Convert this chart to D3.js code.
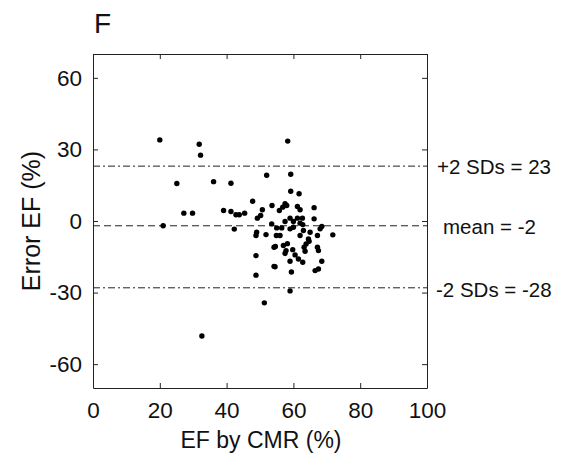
<!DOCTYPE html>
<html>
<head>
<meta charset="utf-8">
<style>
  body { margin: 0; background: #fff; }
  text { font-family: "Liberation Sans", Arial, sans-serif; fill: #111; }
</style>
</head>
<body>
<div id="chart"></div>
<script src="https://cdn.jsdelivr.net/npm/d3@7"></script>
<script>
// EF by CMR (%)
var efCmr = [20, 21, 31.8, 32.2, 25.1, 36.1, 41.3, 27.2, 29.8, 39.1, 41.3, 42.8, 43.8, 45.4, 42.3,
  32.6, 51.3, 59, 58.3, 52, 59.2, 59.2, 61.7, 47.8, 50.7, 50.2, 49.2, 53.6, 55.8, 56.8, 57.5, 58,
  61.2, 62, 66.2, 66.2, 53.5, 55, 57.5, 59, 60, 61.2, 62.7, 62, 60, 59, 62.8, 63, 65, 68, 68.5,
  67.2, 71.8, 64.5, 62, 56, 51.8, 49, 48.8, 54.2, 54.6, 57, 57.8, 59.8, 63.2, 63.5, 67.2, 67.5,
  48.8, 54.5, 59, 61.5, 62.8, 68.5, 67.5, 66.5, 48.8, 54.2, 59.4, 57.5, 60.5, 63.8, 58.2, 64.7,
  54.9, 56.5];
// Error EF (%)
var efError = [34, -2, 32.2, 27.6, 15.7, 16.5, 15.8, 3.3, 3.3, 4.4, 4.0, 2.6, 2.6, 3.3, -3.4,
  -48.2, -34.3, -29.3, 33.5, 19.2, 19.6, 12.5, 11.4, 8.3, 4.7, 2.3, 1.2, 6.5, 4.4, 5.8, 7.2, 6.5,
  6.1, 4.7, 5.6, 0.9, -1.2, -2.9, -0.2, 1.2, -0.2, 1.2, 1.2, -0.9, -2.6, -3.3, -1.5, -4, -4.7, -3.3, -2.3,
  -6.1, -5.8, -7.5, -6.1, -6.1, -5.7, -4.7, -6.1, -11, -10.7, -10.3, -12.4, -12, -11, -12.7, -11, -12.4,
  -14.5, -19.2, -16.9, -15.9, -17.3, -16.9, -20.1, -20.8, -22.7, -19, -21.4, -13.6, -14.2, -9.6, -9.5, -8.5,
  -6.1, -2.9];

var xTicks = [0, 20, 40, 60, 80, 100];
var yTicks = [-60, -30, 0, 30, 60];
var refLines = [
  { value: 23, label: "+2 SDs = 23", dash: "7,3,2,3", dx: 10, dy: 8 },
  { value: -2, label: "mean = -2", dash: "7,4", dx: 16, dy: 8 },
  { value: -28, label: "-2 SDs = -28", dash: "7,3,2,3", dx: 9, dy: 9 }
];

var W = 572, H = 460;
var pL = 93, pR = 427, pT = 54, pB = 388;

var svg = d3.select('#chart').append('svg').attr('width', W).attr('height', H);

var x = d3.scaleLinear().domain([0, 100]).range([pL, pR]);
var y = d3.scaleLinear().domain([-70, 70]).range([pB, pT]);

// reference lines
refLines.forEach(function (r) {
  svg.append('line')
    .attr('x1', pL).attr('x2', pR)
    .attr('y1', y(r.value)).attr('y2', y(r.value))
    .attr('stroke', '#222').attr('stroke-width', 1)
    .attr('stroke-dasharray', r.dash);
  svg.append('text')
    .attr('x', pR + r.dx).attr('y', y(r.value) + r.dy)
    .attr('font-size', 20.5)
    .text(r.label);
});

// axes, MATLAB style box with inward ticks
var fmt = function (d) { return String(d); };
function styleAxis(g) {
  g.selectAll('path').attr('stroke', '#222');
  g.selectAll('line').attr('stroke', '#222');
  g.selectAll('text').attr('font-size', 22.5).attr('fill', '#111')
    .attr('font-family', '"Liberation Sans", Arial, sans-serif');
}

svg.append('g').attr('transform', 'translate(0,' + pB + ')')
  .call(d3.axisBottom(x).tickValues(xTicks).tickFormat(fmt).tickSizeInner(-5).tickSizeOuter(0).tickPadding(14))
  .call(styleAxis);
svg.append('g').attr('transform', 'translate(0,' + pT + ')')
  .call(d3.axisTop(x).tickValues(xTicks).tickSizeInner(-5).tickSizeOuter(0).tickFormat(''))
  .call(styleAxis);
svg.append('g').attr('transform', 'translate(' + pL + ',0)')
  .call(d3.axisLeft(y).tickValues(yTicks).tickFormat(fmt).tickSizeInner(-5).tickSizeOuter(0).tickPadding(11))
  .call(styleAxis);
svg.append('g').attr('transform', 'translate(' + pR + ',0)')
  .call(d3.axisRight(y).tickValues(yTicks).tickSizeInner(-5).tickSizeOuter(0).tickFormat(''))
  .call(styleAxis);

// points
svg.append('g').selectAll('circle')
  .data(d3.range(efCmr.length))
  .join('circle')
  .attr('cx', function (i) { return x(efCmr[i]); })
  .attr('cy', function (i) { return y(efError[i]); })
  .attr('r', 2.7)
  .attr('fill', '#000');

// labels
svg.append('text').attr('x', 94).attr('y', 33).attr('font-size', 28).text('F');
svg.append('text')
  .attr('x', 261).attr('y', 448)
  .attr('text-anchor', 'middle').attr('font-size', 23)
  .text('EF by CMR (%)');
svg.append('text')
  .attr('transform', 'translate(40,' + ((pT + pB) / 2) + ') rotate(-90)')
  .attr('text-anchor', 'middle').attr('font-size', 25)
  .text('Error EF (%)');
</script>
</body>
</html>
